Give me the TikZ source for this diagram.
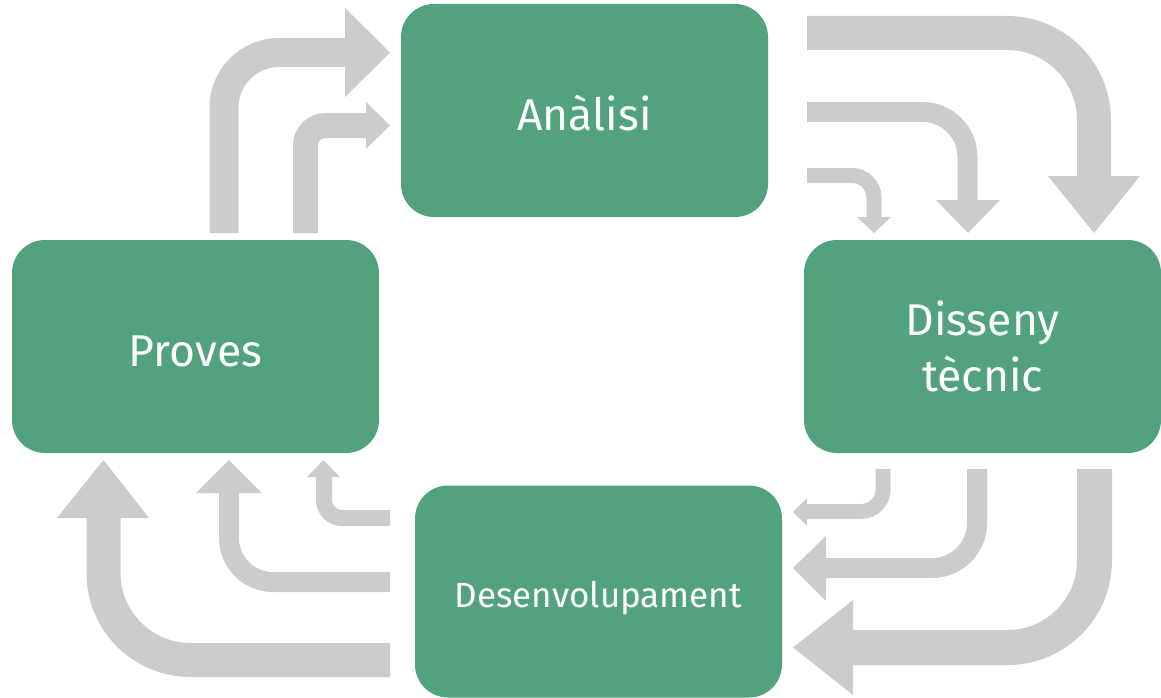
\documentclass[tikz,border=0pt]{standalone}
\usepackage{fontspec}
\setmainfont{Fira Sans}
\definecolor{boxgreen}{HTML}{52A37D}
\definecolor{arrowgray}{HTML}{CCCCCC}
\begin{document}
\begin{tikzpicture}[x=1pt,y=-1pt,
  stage/.style={fill=boxgreen, rounded corners=33pt, inner sep=0pt, text=white, align=center},
  bigtext/.style={font=\fontsize{44.5}{56}\selectfont},
  smalltext/.style={font=\fontsize{35}{42}\selectfont},
  flow/.style={draw=arrowgray, line width=#1, line cap=butt, line join=miter},
  headfill/.style={fill=arrowgray}]
\useasboundingbox (0,0) rectangle (1161,698);
% stages
\node[stage, bigtext, minimum width=367pt, minimum height=213pt, text height=41pt, text depth=0pt] (ana) at (584.5,110.5) {Anàlisi};
\node[stage, bigtext, minimum width=357pt, minimum height=213pt] (dis) at (982.5,346.5) {Disseny\\tècnic};
\node[stage, smalltext, minimum width=367pt, minimum height=212pt, text height=31pt, text depth=0pt] (des) at (598.5,591.5) {Desenvolupament};
\node[stage, bigtext, minimum width=367pt, minimum height=213pt, text height=39pt, text depth=0pt] (pro) at (195.5,346.5) {Proves};
% Anàlisi -> Disseny
\draw[flow=34pt, rounded corners=87pt] (807,33) -- (1094,33) -- (1094,177);
\fill[headfill] (1048,176) -- (1140,176) -- (1094,233) -- cycle;
\draw[flow=20pt, rounded corners=45pt] (807,112) -- (967.5,112) -- (967.5,201);
\fill[headfill] (936,200) -- (1000,200) -- (968,233) -- cycle;
\draw[flow=15pt, rounded corners=22pt] (807,175.5) -- (874,175.5) -- (874,218);
\fill[headfill] (857,217) -- (891,217) -- (874,233) -- cycle;
% Disseny -> Desenvolupament
\draw[flow=15pt, rounded corners=22pt] (883,469) -- (883,511.5) -- (806,511.5);
\fill[headfill] (807,498) -- (807,526) -- (793,512) -- cycle;
\draw[flow=20pt, rounded corners=45pt] (977,469) -- (977,568) -- (825,568);
\fill[headfill] (826,536) -- (826,601) -- (793,568) -- cycle;
\draw[flow=35pt, rounded corners=87pt] (1094.5,469) -- (1094.5,647.5) -- (852,647.5);
\fill[headfill] (853,600) -- (853,695) -- (793,647.5) -- cycle;
% Desenvolupament -> Proves
\draw[flow=34pt, rounded corners=87pt] (390,660) -- (103.5,660) -- (103.5,517);
\fill[headfill] (57,518) -- (149,518) -- (103.5,460) -- cycle;
\draw[flow=20pt, rounded corners=44pt] (390,582) -- (229,582) -- (229,492);
\fill[headfill] (196,493) -- (262,493) -- (229,460) -- cycle;
\draw[flow=16pt, rounded corners=18pt] (390,518) -- (324,518) -- (324,476);
\fill[headfill] (307,477) -- (340,477) -- (323.5,460) -- cycle;
% Proves -> Anàlisi
\draw[flow=29pt, rounded corners=55pt] (224,233) -- (224,52.5) -- (346,52.5);
\fill[headfill] (345,8) -- (345,97) -- (390,52.5) -- cycle;
\draw[flow=25pt, rounded corners=20pt] (305.5,233) -- (305.5,125.5) -- (367,125.5);
\fill[headfill] (366,102) -- (366,149) -- (390,125.5) -- cycle;
\end{tikzpicture}
\end{document}
